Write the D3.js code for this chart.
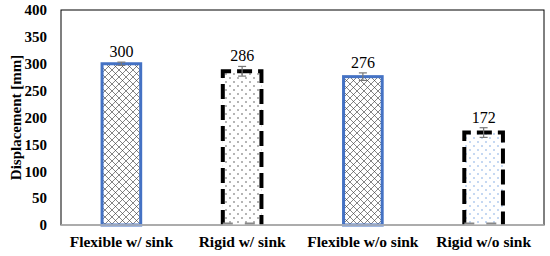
<!DOCTYPE html>
<html>
<head>
<meta charset="utf-8">
<script src="https://cdn.jsdelivr.net/npm/d3@7"></script>
<style>
  body { margin: 0; background: #fff; }
  svg { display: block; font-family: "Liberation Serif", "Times New Roman", serif; }
</style>
</head>
<body>
<div id="chart"></div>
<script>
// data
const categories = ["Flexible w/ sink", "Rigid w/ sink", "Flexible w/o sink", "Rigid w/o sink"];
const values = [300, 286, 276, 172];
const errors = [3, 9, 7, 9];
const yTicks = [0, 50, 100, 150, 200, 250, 300, 350, 400];

const width = 550, height = 256;
const margin = {top: 10, right: 6, bottom: 31, left: 61};

const svg = d3.select('#chart').append('svg').attr('width', width).attr('height', height);
const defs = svg.append('defs');

// crosshatch for flexible
const cross = defs.append('pattern').attr('id', 'cross').attr('patternUnits', 'userSpaceOnUse').attr('width', 7).attr('height', 7);
cross.append('rect').attr('width', 7).attr('height', 7).attr('fill', '#fff');
cross.append('path').attr('d', 'M0,0 L7,7 M7,0 L0,7').attr('stroke', '#333').attr('stroke-width', 0.6);

// black dots for rigid w/ sink
const dots = defs.append('pattern').attr('id', 'dots').attr('patternUnits', 'userSpaceOnUse').attr('width', 8).attr('height', 8);
dots.append('rect').attr('width', 8).attr('height', 8).attr('fill', '#fff');
dots.append('circle').attr('cx', 2).attr('cy', 2).attr('r', 0.7).attr('fill', '#333');
dots.append('circle').attr('cx', 6).attr('cy', 6).attr('r', 0.7).attr('fill', '#333');

// blue dots for rigid w/o sink
const bdots = defs.append('pattern').attr('id', 'bdots').attr('patternUnits', 'userSpaceOnUse').attr('width', 8).attr('height', 8);
bdots.append('rect').attr('width', 8).attr('height', 8).attr('fill', '#fff');
bdots.append('circle').attr('cx', 2).attr('cy', 2).attr('r', 0.75).attr('fill', '#6f9ee0');
bdots.append('circle').attr('cx', 6).attr('cy', 6).attr('r', 0.75).attr('fill', '#6f9ee0');

const fills = ['url(#cross)', 'url(#dots)', 'url(#cross)', 'url(#bdots)'];
const rigid = [false, true, false, true];

const x = d3.scaleBand().domain(categories).range([margin.left, width - margin.right]).paddingInner(0.68).paddingOuter(0.34);
const y = d3.scaleLinear().domain([0, 400]).range([height - margin.bottom, margin.top]);

// plot frame
svg.append('rect').attr('x', margin.left).attr('y', margin.top)
  .attr('width', width - margin.right - margin.left).attr('height', height - margin.bottom - margin.top)
  .attr('fill', 'none').attr('stroke', '#000').attr('stroke-width', 1);

// y axis labels
const yAxis = svg.append('g').attr('transform', `translate(${margin.left},0)`)
  .call(d3.axisLeft(y).tickValues(yTicks).tickSize(0).tickPadding(14));
yAxis.select('.domain').remove();
yAxis.selectAll('text').attr('font-size', 15).attr('font-weight', 'bold')
  .attr('font-family', '"Liberation Serif", serif').attr('fill', '#000');

// bars
categories.forEach((c, i) => {
  const bx = x(c), bw = x.bandwidth();
  const by = y(values[i]), bh = y(0) - y(values[i]);
  svg.append('rect').attr('x', bx).attr('y', by).attr('width', bw).attr('height', bh).attr('fill', fills[i]);
  if (rigid[i]) {
    svg.append('path').attr('d', `M${bx},${y(0)} V${by} H${bx + bw} V${y(0)}`)
      .attr('fill', 'none').attr('stroke', '#000').attr('stroke-width', 4).attr('stroke-dasharray', '15,6');
    svg.append('line').attr('x1', bx).attr('x2', bx + bw).attr('y1', y(0) - 1).attr('y2', y(0) - 1)
      .attr('stroke', '#888').attr('stroke-width', 3).attr('stroke-dasharray', '10,12');
  } else {
    svg.append('rect').attr('x', bx).attr('y', by).attr('width', bw).attr('height', bh)
      .attr('fill', 'none').attr('stroke', '#4472c4').attr('stroke-width', 3);
  }
  // error bar
  const cx = bx + bw / 2;
  const e = svg.append('g').attr('stroke', '#777').attr('stroke-width', 1.2);
  e.append('line').attr('x1', cx).attr('x2', cx).attr('y1', y(values[i] + errors[i])).attr('y2', y(values[i] - errors[i]));
  e.append('line').attr('x1', cx - 4).attr('x2', cx + 4).attr('y1', y(values[i] + errors[i])).attr('y2', y(values[i] + errors[i]));
  e.append('line').attr('x1', cx - 4).attr('x2', cx + 4).attr('y1', y(values[i] - errors[i])).attr('y2', y(values[i] - errors[i]));
  // value label
  svg.append('text').attr('x', cx).attr('y', y(values[i] + errors[i]) - 5)
    .attr('text-anchor', 'middle').attr('font-size', 16).text(values[i]);
});

// x axis line
svg.append('line').attr('x1', margin.left).attr('x2', width - margin.right)
  .attr('y1', y(0)).attr('y2', y(0)).attr('stroke', '#bbb').attr('stroke-width', 1.5);

// category labels
const xAxis = svg.append('g').attr('transform', `translate(0,${y(0)})`)
  .call(d3.axisBottom(x).tickSize(0).tickPadding(11));
xAxis.select('.domain').remove();
xAxis.selectAll('text').attr('font-size', 15.5).attr('font-weight', 'bold')
  .attr('font-family', '"Liberation Serif", serif').attr('fill', '#000');

// y title
svg.append('text').attr('transform', `translate(18,${(margin.top + height - margin.bottom) / 2}) rotate(-90)`)
  .attr('text-anchor', 'middle').attr('dominant-baseline', 'middle')
  .attr('font-size', 15).attr('font-weight', 'bold').text('Displacement [mm]');
</script>
</body>
</html>
